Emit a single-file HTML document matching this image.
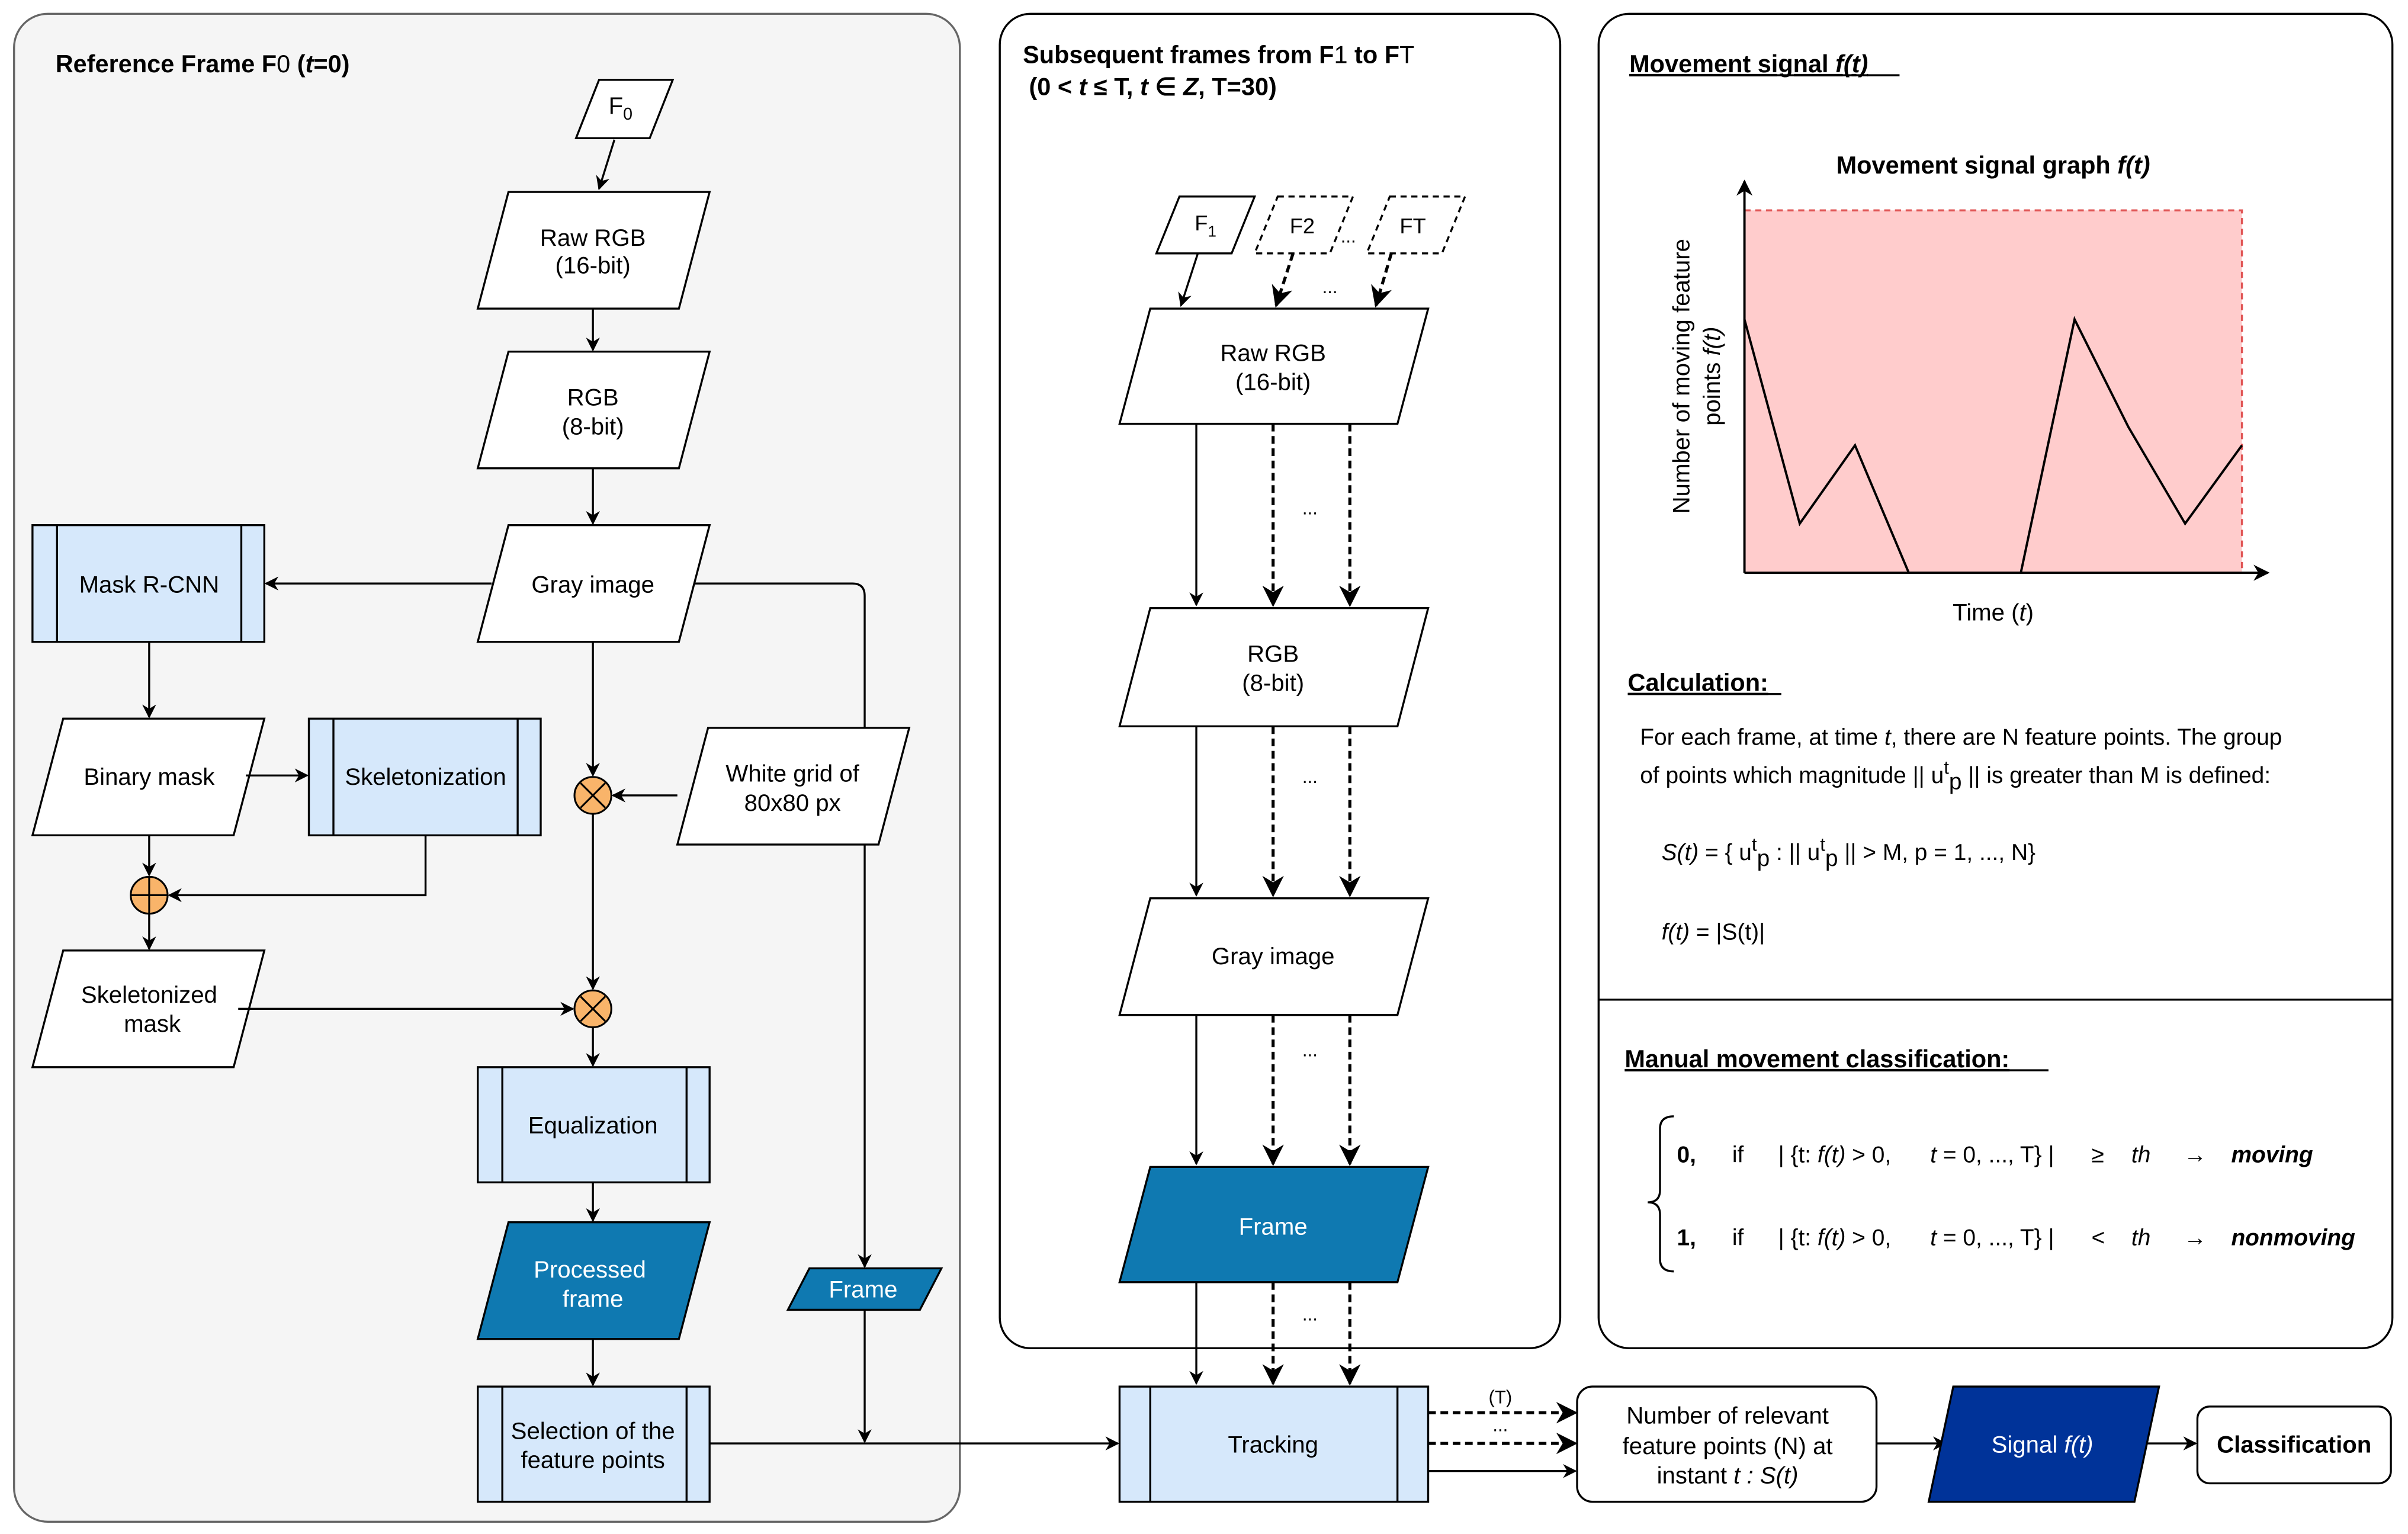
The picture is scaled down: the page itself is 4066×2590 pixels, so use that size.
<!DOCTYPE html>
<html><head><meta charset="utf-8"><style>
html,body{margin:0;padding:0;background:#fff;}
svg{display:block;font-family:"Liberation Sans",Arial,sans-serif;}
</style></head><body>
<svg width="4066" height="2590" viewBox="0 0 1568 999" xmlns="http://www.w3.org/2000/svg">
<defs>
<marker id="a" viewBox="0 0 10 10" refX="9" refY="5" markerWidth="7" markerHeight="7" orient="auto"><path d="M0,0 L10,5 L0,10 L3,5 z" fill="#000"/></marker>
</defs>
<rect width="1568" height="999" fill="#fff"/>
<!-- panels -->
<rect x="9" y="9" width="616" height="982" rx="22" fill="#f5f5f5" stroke="#666" stroke-width="1.3"/>
<rect x="651" y="9" width="365" height="869" rx="20" fill="#fff" stroke="#000" stroke-width="1.3"/>
<rect x="1041" y="9" width="517" height="869" rx="20" fill="#fff" stroke="#000" stroke-width="1.3"/>
<line x1="1041" y1="651" x2="1558" y2="651" stroke="#000" stroke-width="1.3"/>

<g font-size="15.5" text-anchor="middle" fill="#000">
<text x="36" y="47" text-anchor="start" font-weight="bold" font-size="16">Reference Frame F<tspan font-weight="normal">0</tspan> (<tspan font-style="italic">t</tspan>=0)</text>

<g stroke="#000" stroke-width="1.3" fill="#fff">
<polygon points="390,52 438,52 423,90 375,90"/>
<polygon points="331,125 462,125 442,201 311,201"/>
<polygon points="331,229 462,229 442,305 311,305"/>
<polygon points="331,342 462,342 442,418 311,418"/>
<rect x="21" y="342" width="151" height="76" fill="#d6e8fb"/>
<line x1="37" y1="342" x2="37" y2="418"/><line x1="157" y1="342" x2="157" y2="418"/>
<polygon points="41,468 172,468 152,544 21,544"/>
<rect x="201" y="468" width="151" height="76" fill="#d6e8fb"/>
<line x1="217" y1="468" x2="217" y2="544"/><line x1="337" y1="468" x2="337" y2="544"/>
<polygon points="41,619 172,619 152,695 21,695"/>
<rect x="311" y="695" width="151" height="75" fill="#d6e8fb"/>
<line x1="327" y1="695" x2="327" y2="770"/><line x1="447" y1="695" x2="447" y2="770"/>
<polygon points="331,796 462,796 442,872 311,872" fill="#0f79b1"/>
<rect x="311" y="903" width="151" height="75" fill="#d6e8fb"/>
<line x1="327" y1="903" x2="327" y2="978"/><line x1="447" y1="903" x2="447" y2="978"/>
</g>
<!-- left connectors -->
<g stroke="#000" stroke-width="1.3" fill="none">
<line x1="400" y1="91" x2="390" y2="123" marker-end="url(#a)"/>
<line x1="386" y1="201" x2="386" y2="228" marker-end="url(#a)"/>
<line x1="386" y1="305" x2="386" y2="341" marker-end="url(#a)"/>
<line x1="320" y1="380" x2="173" y2="380" marker-end="url(#a)"/>
<path d="M452,380 H555 Q563,380 563,388 V825" marker-end="url(#a)"/>
<line x1="386" y1="418" x2="386" y2="505" marker-end="url(#a)"/>
<line x1="441" y1="518" x2="399" y2="518" marker-end="url(#a)"/>
<line x1="386" y1="530" x2="386" y2="644" marker-end="url(#a)"/>
<line x1="97" y1="418" x2="97" y2="467" marker-end="url(#a)"/>
<line x1="160" y1="505" x2="200" y2="505" marker-end="url(#a)"/>
<line x1="97" y1="544" x2="97" y2="570" marker-end="url(#a)"/>
<path d="M277,544 V583 H110" marker-end="url(#a)"/>
<line x1="97" y1="595" x2="97" y2="618" marker-end="url(#a)"/>
<line x1="155" y1="657" x2="373" y2="657" marker-end="url(#a)"/>
<line x1="386" y1="669" x2="386" y2="694" marker-end="url(#a)"/>
<line x1="386" y1="770" x2="386" y2="795" marker-end="url(#a)"/>
<line x1="386" y1="872" x2="386" y2="902" marker-end="url(#a)"/>
<line x1="563" y1="853" x2="563" y2="939" marker-end="url(#a)"/>
<line x1="462" y1="940" x2="728" y2="940" marker-end="url(#a)"/>
</g>
<polygon points="461,474 592,474 572,550 441,550" fill="#fff" stroke="#000" stroke-width="1.3"/>
<polygon points="527,826 613,826 599,853 513,853" fill="#0f79b1" stroke="#000" stroke-width="1.3"/>
<g stroke="#000" stroke-width="1.2" fill="#f9b46a">
<circle cx="386" cy="518" r="12"/><line x1="378" y1="510" x2="394" y2="526"/><line x1="394" y1="510" x2="378" y2="526"/>
<circle cx="386" cy="657" r="12"/><line x1="378" y1="649" x2="394" y2="665"/><line x1="394" y1="649" x2="378" y2="665"/>
<circle cx="97" cy="583" r="12"/><line x1="85" y1="583" x2="109" y2="583"/><line x1="97" y1="571" x2="97" y2="595"/>
</g>
<text x="404" y="74">F<tspan font-size="11" dy="4">0</tspan></text>
<text x="386" y="160">Raw RGB</text><text x="386" y="178">(16-bit)</text>
<text x="386" y="264">RGB</text><text x="386" y="283">(8-bit)</text>
<text x="386" y="386">Gray image</text>
<text x="97" y="386">Mask R-CNN</text>
<text x="97" y="511">Binary mask</text>
<text x="277" y="511">Skeletonization</text>
<text x="516" y="509">White grid of</text><text x="516" y="528">80x80 px</text>
<text x="97" y="653">Skeletonized</text><text x="99" y="672">mask</text>
<text x="386" y="738">Equalization</text>
<text x="384" y="832" fill="#fff">Processed</text><text x="386" y="851" fill="#fff">frame</text>
<text x="562" y="845" fill="#fff">Frame</text>
<text x="386" y="937">Selection of the</text><text x="386" y="956">feature points</text>

<!-- middle -->
<text x="666" y="41" text-anchor="start" font-weight="bold" font-size="16">Subsequent frames from F<tspan font-weight="normal">1</tspan> to F<tspan font-weight="normal">T</tspan></text>
<text x="670" y="62" text-anchor="start" font-weight="bold" font-size="16">(0 &lt; <tspan font-style="italic">t</tspan> ≤ T, <tspan font-style="italic">t</tspan> ∈ <tspan font-style="italic">Z</tspan>, T=30)</text>
<g stroke="#000" stroke-width="1.3" fill="#fff">
<polygon points="768,128 817,128 802,165 753,165"/>
<polygon points="832,128 881,128 866,165 817,165" stroke-dasharray="4,3"/>
<polygon points="905,128 954,128 939,165 890,165" stroke-dasharray="4,3"/>
<polygon points="749,201 930,201 910,276 729,276"/>
<polygon points="749,396 930,396 910,473 729,473"/>
<polygon points="749,585 930,585 910,661 729,661"/>
<polygon points="749,760 930,760 910,835 729,835" fill="#0f79b1"/>
<rect x="729" y="903" width="201" height="75" fill="#d6e8fb"/>
<line x1="749" y1="903" x2="749" y2="978"/><line x1="910" y1="903" x2="910" y2="978"/>
</g>
<g stroke="#000" stroke-width="1.3" fill="none">
<line x1="780" y1="165" x2="769" y2="199" marker-end="url(#a)"/>
<line x1="842" y1="165" x2="831" y2="199" marker-end="url(#a)" stroke-dasharray="5,3" stroke-width="2"/>
<line x1="906" y1="165" x2="896" y2="199" marker-end="url(#a)" stroke-dasharray="5,3" stroke-width="2"/>
<line x1="779" y1="276" x2="779" y2="394" marker-end="url(#a)"/>
<line x1="829" y1="276" x2="829" y2="394" marker-end="url(#a)" stroke-dasharray="5,3" stroke-width="2"/>
<line x1="879" y1="276" x2="879" y2="394" marker-end="url(#a)" stroke-dasharray="5,3" stroke-width="2"/>
<line x1="779" y1="473" x2="779" y2="583" marker-end="url(#a)"/>
<line x1="829" y1="473" x2="829" y2="583" marker-end="url(#a)" stroke-dasharray="5,3" stroke-width="2"/>
<line x1="879" y1="473" x2="879" y2="583" marker-end="url(#a)" stroke-dasharray="5,3" stroke-width="2"/>
<line x1="779" y1="661" x2="779" y2="758" marker-end="url(#a)"/>
<line x1="829" y1="661" x2="829" y2="758" marker-end="url(#a)" stroke-dasharray="5,3" stroke-width="2"/>
<line x1="879" y1="661" x2="879" y2="758" marker-end="url(#a)" stroke-dasharray="5,3" stroke-width="2"/>
<line x1="779" y1="835" x2="779" y2="901" marker-end="url(#a)"/>
<line x1="829" y1="835" x2="829" y2="901" marker-end="url(#a)" stroke-dasharray="5,3" stroke-width="2"/>
<line x1="879" y1="835" x2="879" y2="901" marker-end="url(#a)" stroke-dasharray="5,3" stroke-width="2"/>
<line x1="930" y1="920" x2="1026" y2="920" marker-end="url(#a)" stroke-dasharray="5,3" stroke-width="2"/>
<line x1="930" y1="940" x2="1026" y2="940" marker-end="url(#a)" stroke-dasharray="5,3" stroke-width="2"/>
<line x1="930" y1="958" x2="1026" y2="958" marker-end="url(#a)"/>
<line x1="1222" y1="940" x2="1267" y2="940" marker-end="url(#a)"/>
<line x1="1394" y1="940" x2="1430" y2="940" marker-end="url(#a)"/>
</g>
<text x="785" y="150" font-size="14">F<tspan font-size="10" dy="4">1</tspan></text>
<text x="848" y="152" font-size="14">F2</text>
<text x="878" y="158" font-size="12">...</text>
<text x="920" y="152" font-size="14">FT</text>
<text x="866" y="191" font-size="12">...</text>
<text x="853" y="335" font-size="12">...</text>
<text x="853" y="510" font-size="12">...</text>
<text x="853" y="688" font-size="12">...</text>
<text x="853" y="860" font-size="12">...</text>
<text x="829" y="235">Raw RGB</text><text x="829" y="254">(16-bit)</text>
<text x="829" y="431">RGB</text><text x="829" y="450">(8-bit)</text>
<text x="829" y="628">Gray image</text>
<text x="829" y="804" fill="#fff">Frame</text>
<text x="829" y="946">Tracking</text>
<text x="977" y="914" font-size="12">(T)</text>
<text x="977" y="932" font-size="12">...</text>
<rect x="1027" y="903" width="195" height="75" rx="10" fill="#fff" stroke="#000" stroke-width="1.3"/>
<text x="1125" y="927">Number of relevant</text>
<text x="1125" y="947">feature points (N)  at</text>
<text x="1125" y="966">instant <tspan font-style="italic">t : S(t)</tspan></text>
<polygon points="1272,903 1406,903 1390,978 1256,978" fill="#003399" stroke="#000" stroke-width="1.3"/>
<text x="1330" y="946" fill="#fff">Signal <tspan font-style="italic">f(t)</tspan></text>
<rect x="1431" y="916" width="126" height="50" rx="8" fill="#fff" stroke="#000" stroke-width="1.3"/>
<text x="1494" y="946" font-weight="bold">Classification</text>

<!-- right panel -->
<text x="1061" y="47" text-anchor="start" font-weight="bold" font-size="16" text-decoration="underline">Movement signal <tspan font-style="italic">f(t)</tspan> </text>
<line x1="1061" y1="49" x2="1237" y2="49" stroke="#000" stroke-width="1.3"/>
<text x="1298" y="113" font-weight="bold" font-size="16">Movement signal graph <tspan font-style="italic">f(t)</tspan></text>
<rect x="1136" y="137" width="324" height="236" fill="#ffcccc"/>
<path d="M1136,137 H1460 V373" fill="none" stroke="#e05555" stroke-width="1.3" stroke-dasharray="4,3"/>
<polyline points="1136,208 1172,341 1208,290 1243,373 1316,373 1351,208 1386,278 1423,341 1460,290" fill="none" stroke="#000" stroke-width="1.5"/>
<line x1="1136" y1="373" x2="1136" y2="118" stroke="#000" stroke-width="1.5" marker-end="url(#a)"/>
<line x1="1136" y1="373" x2="1477" y2="373" stroke="#000" stroke-width="1.5" marker-end="url(#a)"/>
<text transform="translate(1100,245) rotate(-90)">Number of moving feature</text>
<text transform="translate(1120,245) rotate(-90)">points <tspan font-style="italic">f(t)</tspan></text>
<text x="1298" y="404">Time (<tspan font-style="italic">t</tspan>)</text>
<text x="1060" y="450" text-anchor="start" font-weight="bold" font-size="16" text-decoration="underline">Calculation:</text>
<line x1="1060" y1="452" x2="1160" y2="452" stroke="#000" stroke-width="1.3"/>
<g text-anchor="start" font-size="15">
<text x="1068" y="485">For each frame, at time <tspan font-style="italic">t</tspan>, there are N feature points. The group</text>
<text x="1068" y="510">of points which magnitude || u<tspan dy="-6" font-size="12">t</tspan><tspan dy="10">p</tspan><tspan dy="-4"> || is greater than M is defined:</tspan></text>
<text x="1082" y="560"><tspan font-style="italic">S(t)</tspan> = { u<tspan dy="-6" font-size="12">t</tspan><tspan dy="10">p</tspan><tspan dy="-4"> : || u</tspan><tspan dy="-6" font-size="12">t</tspan><tspan dy="10">p</tspan><tspan dy="-4"> ||  &gt;  M,    p = 1, ..., N}</tspan></text>
<text x="1082" y="612"><tspan font-style="italic">f(t)</tspan> = |S(t)|</text>
</g>
<text x="1058" y="695" text-anchor="start" font-weight="bold" font-size="16" text-decoration="underline">Manual movement classification:</text>
<line x1="1058" y1="697" x2="1334" y2="697" stroke="#000" stroke-width="1.3"/>
<path d="M1090,727 Q1081,727 1081,735 V775 Q1081,783 1073,783 Q1081,783 1081,791 V820 Q1081,828 1090,828" fill="none" stroke="#000" stroke-width="1.3"/>
<g text-anchor="start" font-size="15">
<text x="1092" y="757"><tspan font-weight="bold">0,</tspan></text><text x="1128" y="757">if</text>
<text x="1158" y="757">| {t: <tspan font-style="italic">f(t)</tspan> &gt; 0,</text><text x="1257" y="757"><tspan font-style="italic">t</tspan> = 0, ..., T} |</text>
<text x="1362" y="757">≥</text><text x="1388" y="757" font-style="italic">th</text><text x="1422" y="757">→</text>
<text x="1453" y="757" font-weight="bold" font-style="italic">moving</text>
<text x="1092" y="811"><tspan font-weight="bold">1,</tspan></text><text x="1128" y="811">if</text>
<text x="1158" y="811">| {t: <tspan font-style="italic">f(t)</tspan> &gt; 0,</text><text x="1257" y="811"><tspan font-style="italic">t</tspan> = 0, ..., T} |</text>
<text x="1362" y="811">&lt;</text><text x="1388" y="811" font-style="italic">th</text><text x="1422" y="811">→</text>
<text x="1453" y="811" font-weight="bold" font-style="italic">nonmoving</text>
</g>
</g>
</svg>
</body></html>
